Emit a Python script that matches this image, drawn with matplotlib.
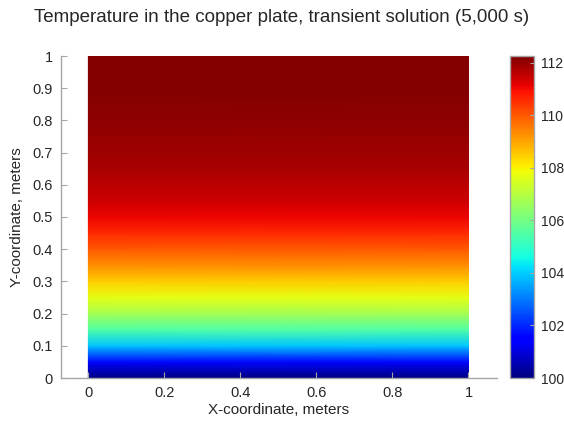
import numpy as np
import matplotlib
matplotlib.use("Agg")
import matplotlib.pyplot as plt

# Temperature profile (varies with y only)
y_coords = [0.0, 0.05, 0.10, 0.15, 0.20, 0.25, 0.30, 0.35, 0.40, 0.45, 0.50,
            0.55, 0.60, 0.65, 0.70, 0.75, 0.80, 0.85, 0.90, 0.95, 1.0]
temps = [100.0, 101.6, 103.9, 105.5, 106.7, 107.7, 108.5, 109.3, 110.0, 110.6, 111.1,
         111.4, 111.6, 111.8, 111.9, 112.0, 112.1, 112.15, 112.2, 112.2, 112.2]
x_coords = [0.0, 1.0]
x_ticks = [0, 0.2, 0.4, 0.6, 0.8, 1]
y_ticks = [0, 0.1, 0.2, 0.3, 0.4, 0.5, 0.6, 0.7, 0.8, 0.9, 1]
cbar_ticks = [100, 102, 104, 106, 108, 110, 112]
clim = (100.0, 112.25)

title = "Temperature in the copper plate, transient solution (5,000 s)"
xlabel = "X-coordinate, meters"
ylabel = "Y-coordinate, meters"

plt.rcParams['font.family'] = ['Liberation Sans', 'DejaVu Sans']
text_c = '#262626'
spine_c = '#a6a6a6'

fig = plt.figure(figsize=(5.64, 4.21), dpi=100)
W, H = 564, 421
ax = fig.add_axes([61 / W, (H - 378) / H, (497 - 61) / W, (378 - 56) / H])
cax = fig.add_axes([510 / W, (H - 378) / H, (534 - 510) / W, (378 - 56) / H])

X, Y = np.meshgrid(np.array(x_coords), np.array(y_coords))
Z = np.tile(np.array(temps)[:, None], (1, len(x_coords)))
mesh = ax.pcolormesh(X, Y, Z, cmap='jet', shading='gouraud', vmin=clim[0], vmax=clim[1])

ax.set_xlim(-0.072, 1.075)
ax.set_ylim(0, 1)
ax.set_xticks(x_ticks)
ax.set_xticklabels(['0', '0.2', '0.4', '0.6', '0.8', '1'])
ax.set_yticks(y_ticks)
ax.set_yticklabels(['0', '0.1', '0.2', '0.3', '0.4', '0.5', '0.6', '0.7', '0.8', '0.9', '1'])
for s in ['top', 'right']:
    ax.spines[s].set_visible(False)
for s in ['left', 'bottom']:
    ax.spines[s].set_color(spine_c)
    ax.spines[s].set_linewidth(1.0)
ax.tick_params(direction='in', length=4, color=spine_c, labelcolor=text_c, labelsize=10.5, pad=6)
ax.set_xlabel(xlabel, fontsize=11, color=text_c, labelpad=2)
ax.set_ylabel(ylabel, fontsize=11, color=text_c, labelpad=6)

cb = fig.colorbar(mesh, cax=cax, ticks=cbar_ticks)
cb.outline.set_edgecolor(spine_c)
cb.outline.set_linewidth(1.0)
cax.tick_params(direction='in', length=3, color=spine_c, labelcolor=text_c, labelsize=10, pad=5)

fig.text(0.5, 1 - 18 / H, title, ha='center', va='center', fontsize=13.5, color=text_c)

fig.savefig('out.png', dpi=100, facecolor='white')
